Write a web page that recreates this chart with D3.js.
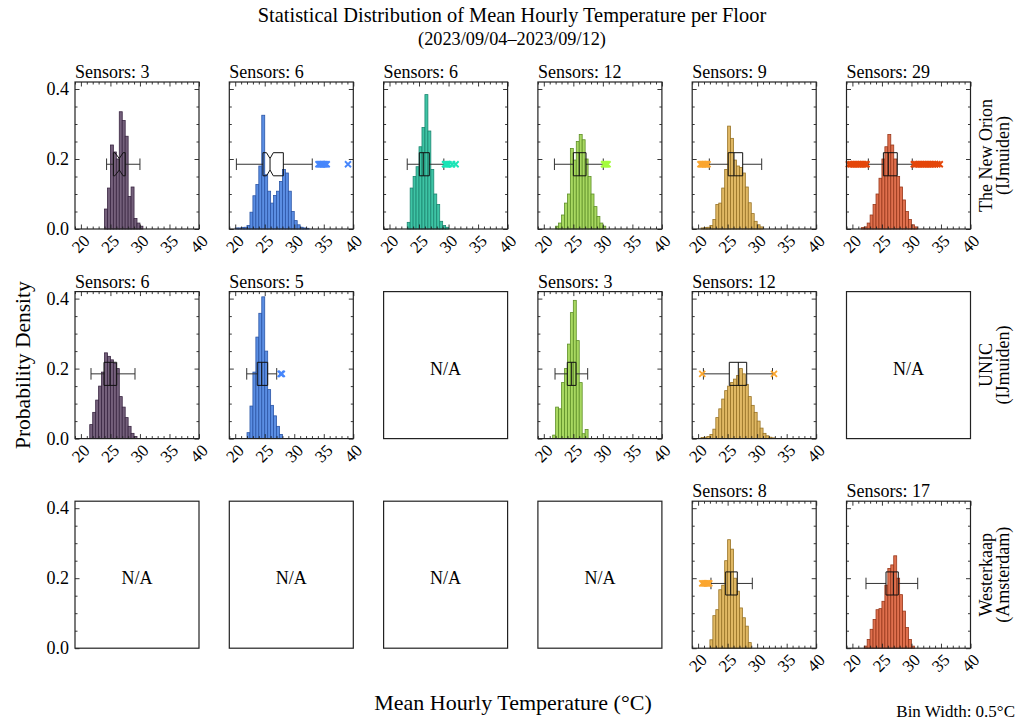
<!DOCTYPE html>
<html>
<head>
<meta charset="utf-8">
<script src="https://cdn.jsdelivr.net/npm/d3@7"></script>
<style>
  body { margin: 0; background: #fff; }
  svg { font-family: "Liberation Serif", "DejaVu Serif", serif; }
</style>
</head>
<body>
<svg id="chart" width="1023" height="722"></svg>
<script>
// rows = buildings, columns = floors (colour per column)
const siteNames = [['The New Orion', '(IJmuiden)'], ['UNIC', '(IJmuiden)'], ['Westerkaap', '(Amsterdam)']];
const sensorCounts = [
  [3, 6, 6, 12, 9, 29],
  [6, 5, null, 3, 12, null],
  [null, null, null, null, 8, 17]
];
const binWidth = 0.5;
const binStarts = [
  [24.0, 20.0, 23.0, 22.0, 20.5, 21.5],
  [21.5, 22.0, null, 21.5, 20.5, null],
  [null, null, null, null, 22.0, 22.0]
];
const densities = [
  [
    [0.057, 0.117, 0.24, 0.22, 0.2, 0.335, 0.31, 0.265, 0.093, 0.12, 0.03, 0.017, 0.008],
    [0.003, 0.003, 0.004, 0.005, 0.01, 0.048, 0.095, 0.127, 0.18, 0.325, 0.155, 0.108, 0.074, 0.096, 0.108, 0.136, 0.17, 0.16, 0.108, 0.05, 0.024, 0.012, 0.005, 0.003, 0.002],
    [0.019, 0.117, 0.15, 0.178, 0.235, 0.29, 0.384, 0.28, 0.17, 0.1, 0.07, 0.022, 0.01, 0.005],
    [0.008, 0.017, 0.04, 0.074, 0.1, 0.23, 0.197, 0.25, 0.27, 0.255, 0.2, 0.15, 0.1, 0.064, 0.036, 0.017, 0.008],
    [0.003, 0.004, 0.005, 0.01, 0.027, 0.07, 0.074, 0.117, 0.17, 0.294, 0.259, 0.197, 0.18, 0.176, 0.16, 0.12, 0.075, 0.044, 0.022, 0.012, 0.006],
    [0.004, 0.006, 0.017, 0.04, 0.07, 0.1, 0.145, 0.2, 0.235, 0.27, 0.24, 0.2, 0.15, 0.12, 0.083, 0.05, 0.027, 0.012, 0.006]
  ],
  [
    [0.04, 0.075, 0.11, 0.15, 0.19, 0.245, 0.235, 0.225, 0.215, 0.2, 0.12, 0.09, 0.06, 0.035, 0.015, 0.006],
    [0.017, 0.093, 0.19, 0.29, 0.358, 0.405, 0.25, 0.14, 0.095, 0.065, 0.035, 0.012],
    null,
    [0.01, 0.09, 0.085, 0.16, 0.2, 0.27, 0.36, 0.395, 0.28, 0.16, 0.014, 0.026],
    [0.003, 0.004, 0.006, 0.012, 0.027, 0.06, 0.085, 0.113, 0.137, 0.15, 0.16, 0.17, 0.18, 0.2, 0.185, 0.155, 0.12, 0.095, 0.075, 0.05, 0.03, 0.015, 0.008, 0.004, 0.002],
    null
  ],
  [
    null, null, null, null,
    [0.024, 0.093, 0.11, 0.167, 0.18, 0.25, 0.31, 0.283, 0.2, 0.163, 0.115, 0.087, 0.063, 0.016],
    [0.006, 0.025, 0.054, 0.082, 0.11, 0.113, 0.134, 0.18, 0.228, 0.238, 0.264, 0.2, 0.153, 0.106, 0.059, 0.025, 0.006]
  ]
];
// [whisker low, q1, notch low, median, notch high, q3, whisker high]
const boxStats = [
  [
    [24.35, 25.5, 25.75, 26.5, 27.15, 27.5, 30.0],
    [20.2, 24.7, 25.3, 25.9, 26.45, 28.15, 33.05],
    [23.0, 25.05, 25.72, 25.72, 25.72, 26.74, 29.2],
    [21.8, 25.0, 26.0, 26.0, 26.0, 27.15, 30.07],
    [21.9, 25.1, 26.08, 26.08, 26.08, 27.55, 30.77],
    [22.7, 25.25, 26.08, 26.08, 26.08, 27.6, 30.14]
  ],
  [
    [21.71, 23.91, 24.93, 24.93, 24.93, 26.06, 29.16],
    [21.95, 23.74, 24.49, 24.49, 24.49, 25.5, 27.03],
    null,
    [21.9, 23.98, 24.72, 24.72, 24.72, 25.45, 27.43],
    [20.9, 25.28, 26.81, 26.81, 26.81, 28.23, 32.6],
    null
  ],
  [
    null, null, null, null,
    [22.18, 24.67, 25.52, 25.52, 25.52, 26.64, 29.18],
    [22.3, 25.69, 26.93, 26.93, 26.93, 27.77, 31.06]
  ]
];
const outliers = [
  [
    [],
    [34.1, 34.3, 34.5, 34.7, 34.9, 35.1, 35.3, 35.5, 39.1],
    [29.4, 29.6, 29.8, 30.0, 30.6, 31.2],
    [30.2, 30.4, 30.6, 30.8],
    [20.4, 20.6, 20.8, 21.0, 21.2, 21.4, 21.6],
    [19.4, 19.7, 20.0, 20.3, 20.6, 20.9, 21.2, 21.5, 21.8, 22.1, 22.4,
     30.4, 30.7, 31.0, 31.3, 31.6, 31.9, 32.2, 32.5, 32.8, 33.1, 33.4, 33.7, 34.0, 34.4, 34.8]
  ],
  [
    [],
    [27.7, 27.8, 27.9],
    null,
    [],
    [20.7, 32.85],
    null
  ],
  [
    null, null, null, null,
    [20.7, 20.9, 21.1, 21.3, 21.5, 21.7, 21.9],
    []
  ]
];
const xTicks = [20, 25, 30, 35, 40];
const yTicks = [0.0, 0.2, 0.4];

const histFill = ['#74607b', '#5b8ee3', '#3ec4a5', '#a8d861', '#e0b864', '#df704e'];
const histEdge = ['#3a2642', '#2b55a6', '#1b8670', '#5e8f27', '#987326', '#98381b'];
const flierColor = ['#30123b', '#4686fb', '#1ae4b6', '#a4fc3c', '#fba630', '#e4460a'];

const svg = d3.select('#chart');
const W = 124, H = 147;
const colX = i => 75 + i * 154.3;
const rowY = r => 82 + r * 209.6;

const x = d3.scaleLinear().domain([19, 40]).range([0, W]);
const y = d3.scaleLinear().domain([0, 0.42]).range([H, 0]);
const xMinor = d3.range(19, 41, 1).filter(v => v % 5 !== 0);
const yMinor = [0.05, 0.1, 0.15, 0.25, 0.3, 0.35];

const boxMid = 0.185, boxHalf = 0.033;

// title
svg.append('text').attr('x', 512).attr('y', 22).attr('text-anchor', 'middle')
  .attr('font-size', 20.4).text('Statistical Distribution of Mean Hourly Temperature per Floor');
svg.append('text').attr('x', 512).attr('y', 45).attr('text-anchor', 'middle')
  .attr('font-size', 18.3).text('(2023/09/04\u20132023/09/12)');

function ticks(g, axis, scale, vals, size) {
  g.call(axis(scale).tickValues(vals).tickSizeInner(-size).tickSizeOuter(0).tickFormat(''))
    .call(s => s.select('.domain').remove())
    .selectAll('line').attr('stroke', '#222').attr('stroke-width', 0.9);
}

sensorCounts.forEach((row, r) => {
  row.forEach((count, c) => {
    const g = svg.append('g').attr('transform', `translate(${colX(c)},${rowY(r)})`);
    const hasData = count !== null;

    if (hasData) {
      const dens = densities[r][c];
      const start = binStarts[r][c];
      g.append('g').selectAll('rect')
        .data(dens)
        .enter()
        .append('rect')
        .attr('x', (d, i) => x(start + i * binWidth))
        .attr('width', x(binWidth) - x(0))
        .attr('y', d => y(d))
        .attr('height', d => H - y(d))
        .attr('fill', histFill[c])
        .attr('stroke', histEdge[c])
        .attr('stroke-width', 0.8);

      // box plot
      const [lo, q1, nlo, med, nhi, q3, hi] = boxStats[r][c];
      const yc = y(boxMid), yt = y(boxMid + boxHalf), yb = y(boxMid - boxHalf);
      const inset = (yb - yt) / 4;
      const bp = d3.path();
      if (nlo < med) {
        bp.moveTo(x(q1), yt); bp.lineTo(x(nlo), yt); bp.lineTo(x(med), yt + inset);
        bp.lineTo(x(nhi), yt); bp.lineTo(x(q3), yt); bp.lineTo(x(q3), yb);
        bp.lineTo(x(nhi), yb); bp.lineTo(x(med), yb - inset); bp.lineTo(x(nlo), yb);
        bp.lineTo(x(q1), yb); bp.closePath();
      } else {
        bp.rect(x(q1), yt, x(q3) - x(q1), yb - yt);
      }
      const bg = g.append('g').attr('stroke', '#111').attr('fill', 'none').attr('stroke-width', 1);
      bg.append('line').attr('x1', x(lo)).attr('x2', x(q1)).attr('y1', yc).attr('y2', yc).attr('stroke', '#333');
      bg.append('line').attr('x1', x(q3)).attr('x2', x(hi)).attr('y1', yc).attr('y2', yc).attr('stroke', '#333');
      [lo, hi].forEach(v => {
        bg.append('line').attr('x1', x(v)).attr('x2', x(v))
          .attr('y1', yc - inset).attr('y2', yc + inset).attr('stroke', '#333');
      });
      bg.append('path').attr('d', bp.toString());
      const mi = nlo < med ? inset : 0;
      bg.append('line').attr('x1', x(med)).attr('x2', x(med))
        .attr('y1', yt + mi).attr('y2', yb - mi);

      // fliers
      g.append('g').selectAll('path')
        .data(outliers[r][c])
        .enter()
        .append('path')
        .attr('transform', d => `translate(${x(d)},${yc})`)
        .attr('d', 'M-3,-3L3,3M-3,3L3,-3')
        .attr('stroke', flierColor[c])
        .attr('stroke-width', 1.8)
        .attr('fill', 'none');

      // ticks on all four sides, pointing inward
      ticks(g.append('g').attr('transform', `translate(0,${H})`), d3.axisBottom, x, xTicks, 4.5);
      ticks(g.append('g').attr('transform', `translate(0,${H})`), d3.axisBottom, x, xMinor, 2.5);
      ticks(g.append('g'), d3.axisTop, x, xTicks, 4.5);
      ticks(g.append('g'), d3.axisTop, x, xMinor, 2.5);
      ticks(g.append('g').attr('transform', `translate(${W},0)`), d3.axisRight, y, yTicks, 4.5);
      ticks(g.append('g').attr('transform', `translate(${W},0)`), d3.axisRight, y, yMinor, 2.5);

      g.append('g').selectAll('text')
        .data(xTicks)
        .enter()
        .append('text')
        .attr('transform', d => `translate(${x(d)},${H + 15}) rotate(-45)`)
        .attr('text-anchor', 'middle')
        .attr('dominant-baseline', 'central')
        .attr('font-size', 17)
        .text(d => d);

      g.append('text').attr('x', 0).attr('y', -4).attr('font-size', 18)
        .text(`Sensors: ${count}`);
    } else {
      g.append('text').attr('x', W / 2).attr('y', y(0.2))
        .attr('text-anchor', 'middle').attr('dominant-baseline', 'central')
        .attr('font-size', 18).text('N/A');
    }

    if (hasData || c === 0) {
      ticks(g.append('g'), d3.axisLeft, y, yTicks, 4.5);
      ticks(g.append('g'), d3.axisLeft, y, yMinor, 2.5);
    }
    if (c === 0) {
      g.append('g').selectAll('text')
        .data(yTicks)
        .enter()
        .append('text')
        .attr('x', -6)
        .attr('y', d => y(d))
        .attr('text-anchor', 'end')
        .attr('dominant-baseline', 'central')
        .attr('font-size', 18)
        .text(d3.format('.1f'));
    }

    g.append('rect').attr('width', W).attr('height', H)
      .attr('fill', 'none').attr('stroke', '#222').attr('stroke-width', 1.2);
  });

  // building label on the right
  const lg = svg.append('g').attr('transform', `translate(986,${rowY(r) + H / 2}) rotate(-90)`);
  siteNames[r].forEach((t, k) => {
    lg.append('text').attr('x', 0).attr('y', k * 17)
      .attr('text-anchor', 'middle').attr('dominant-baseline', 'central')
      .attr('font-size', 18).text(t);
  });
});

svg.append('text')
  .attr('transform', `translate(23,${(rowY(0) + rowY(2) + H) / 2}) rotate(-90)`)
  .attr('text-anchor', 'middle').attr('dominant-baseline', 'central')
  .attr('font-size', 21.5).text('Probability Density');

svg.append('text').attr('x', 513).attr('y', 710).attr('text-anchor', 'middle')
  .attr('font-size', 22).text('Mean Hourly Temperature (\u00b0C)');

svg.append('text').attr('x', 1015).attr('y', 717).attr('text-anchor', 'end')
  .attr('font-size', 17).text('Bin Width: 0.5\u00b0C');
</script>
</body>
</html>
